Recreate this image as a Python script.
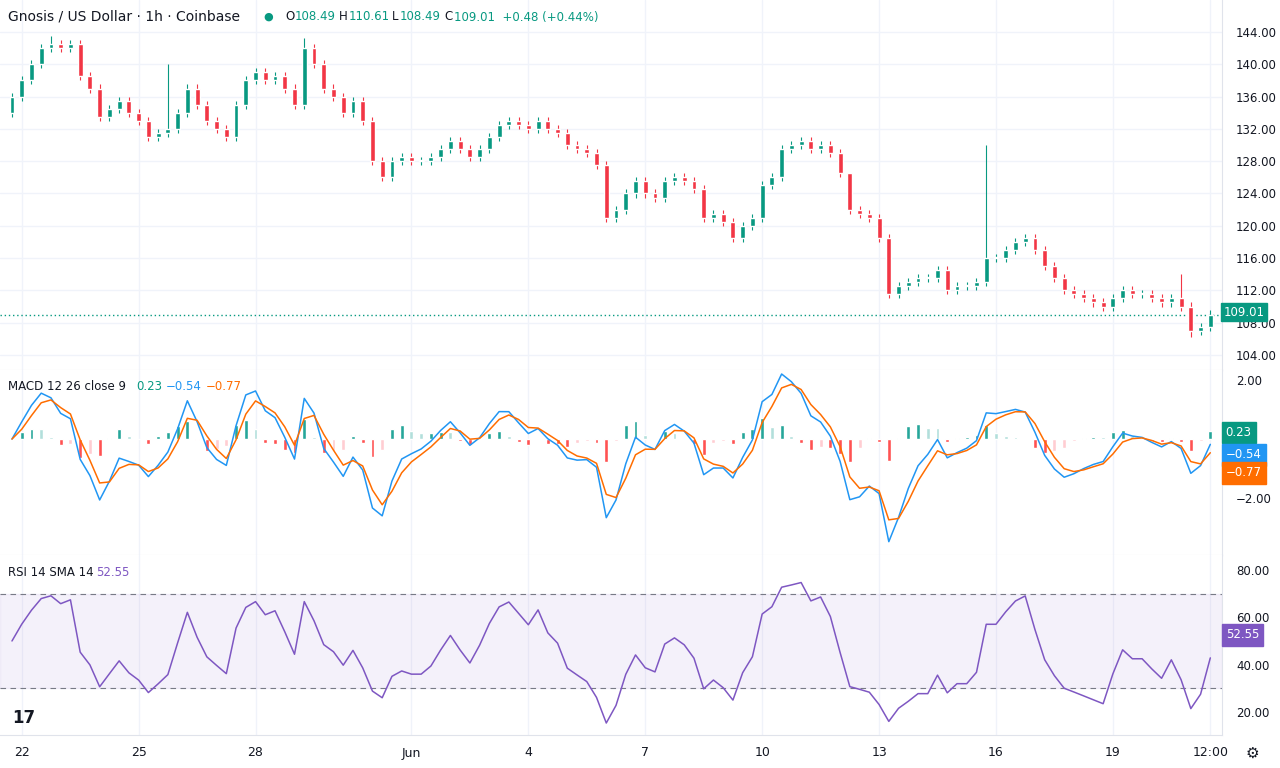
import numpy as np, pandas as pd, matplotlib
matplotlib.use("Agg")
import matplotlib.pyplot as plt, seaborn as sns

closes = [136,138,140,142,142.5,142,142.5,138.5,137,133.5,134.5,135.5,134,133,131,131.5,132,134,137,135,
133,132,131,135,138,139,138,138.5,137,135,142,140,137,136,134,135.5,133,128,126,128,
128.5,128,128,128.5,129.5,130.5,129.5,128.5,129.5,131,132.5,133,132.5,132,133,132,131.5,130,129.5,129,
127.5,121,122,124,125.5,124,123.5,125.5,126,125.5,124.5,121,121.5,120.5,118.5,120,121,125,126,129.5,
130,130.5,129.5,130,129,126.5,122,121.5,121,118.5,111.5,112.5,113,113.5,113.5,114.5,112,112.5,112.5,113,
116,116,117,118,118.5,117,115,113.5,112,111.5,111,110.5,110,111,112,111.5,111.5,111,110.5,111,
110,107,107.5,109.01]
first_open = 134.0
wick_spikes = {16: 140.0, 30: 143.2, 4: 143.5, 100: 130.0, 120: 114.0, 86: 126.0}
low_spikes = {121: 106.2, 74: 118.0}
tick_pos = [1,13,25,41,53,65,77,89,101,113,123]
tick_lab = ["22","25","28","Jun","4","7","10","13","16","19","12:00"]

c = np.array(closes, float); n = len(c)
o = np.r_[first_open, c[:-1]]
h = np.maximum(o, c) + 0.5; l = np.minimum(o, c) - 0.5
for k, v in wick_spikes.items(): h[k] = v
for k, v in low_spikes.items(): l[k] = v
idx = np.arange(n)
s = pd.Series(c)
macd = s.ewm(span=2.0, adjust=False).mean() - s.ewm(span=4.33, adjust=False).mean()
sig = macd.ewm(span=2.5, adjust=False).mean()
hist = macd - sig
d = s.diff().fillna(0)
up = pd.concat([pd.Series([1.0]), d.clip(lower=0)[1:]]).reset_index(drop=True).ewm(alpha=1/6, adjust=False).mean()
dn = pd.concat([pd.Series([1.0]), (-d.clip(upper=0))[1:]]).reset_index(drop=True).ewm(alpha=1/6, adjust=False).mean()
rsi = 100 - 100/(1 + up/dn.replace(0, 1e-9)); rsi = (rsi - 50) * 0.85 + 50

sns.set_style("white")
UP, DN = "#089981", "#f23645"
fig = plt.figure(figsize=(12.8, 7.68), dpi=100)
W = 1222/1280
def mk(top, bot):
    return fig.add_axes([0, 1-bot/768, W, (bot-top)/768])
ax1 = mk(0, 370); ax2 = mk(370, 555); ax3 = mk(555, 735)
xl = (-1.23, 124.2)
for ax in (ax1, ax2, ax3):
    ax.set_xlim(*xl)
    for t in tick_pos: ax.axvline(t, color="#f0f3fa", lw=1, zorder=0)
    for sp in ["top","left"]: ax.spines[sp].set_visible(False)
    ax.spines["right"].set_color("#e0e3eb"); ax.spines["bottom"].set_color("#e0e3eb")
    ax.yaxis.tick_right(); ax.tick_params(axis="y", length=0, labelsize=8.5, colors="#131722", pad=10)
    ax.set_xticks([])

# price
ax1.set_ylim(102.14, 147.96)
pt = np.arange(104, 145, 4)
for v in pt: ax1.axhline(v, color="#f0f3fa", lw=1, zorder=0)
ax1.set_yticks(pt); ax1.set_yticklabels([f"{v:.2f}" for v in pt])
col = np.where(c >= o, UP, DN)
ax1.vlines(idx, l, h, colors=col, lw=0.8, zorder=2)
ax1.bar(idx, np.maximum(np.abs(c-o), 0.15), bottom=np.minimum(o, c), width=0.5, color=col, zorder=3)
ax1.axhline(c[-1], color="#089981", lw=1, ls=(0,(1,2)))
ax1.text(1.001, (c[-1]+0.3-102.14)/(147.96-102.14), "109.01", transform=ax1.transAxes, va="center", ha="left",
         fontsize=8.5, color="white", bbox=dict(boxstyle="square,pad=0.2", fc=UP, ec=UP), zorder=10)
Y = 1-17/768
fig.text(8/1280, Y, "Gnosis / US Dollar · 1h · Coinbase", fontsize=10, va="center", color="#131722")
fig.text(263/1280, Y, "●", fontsize=8, va="center", color=UP)
for xp, t, cl in [(285,"O","#131722"),(295,"108.49",UP),(339,"H","#131722"),(349,"110.61",UP),
                  (392,"L","#131722"),(400,"108.49",UP),(444,"C","#131722"),(454,"109.01  +0.48 (+0.44%)",UP)]:
    fig.text(xp/1280, Y, t, fontsize=8.5, va="center", color=cl)

# MACD
ax2.set_ylim(-3.93, 2.34)
ax2.set_yticks([2, -2]); ax2.set_yticklabels(["2.00", "−2.00"])
hv = hist.values; prev = np.r_[0, hv[:-1]]
hc = np.where(hv >= 0, np.where(hv >= prev, "#26a69a", "#b2dfdb"), np.where(hv <= prev, "#ff5252", "#ffcdd2"))
ax2.bar(idx, hv, width=0.4, color=hc)
sns.lineplot(x=idx, y=macd.values, ax=ax2, color="#2196f3", lw=1.1)
sns.lineplot(x=idx, y=sig.values, ax=ax2, color="#ff6d00", lw=1.1)
for yy, txt, fc in [(0.23, "0.23", "#089981"), (-0.54, "−0.54", "#2196f3"), (-1.15, "−0.77", "#ff6d00")]:
    ax2.text(1.003, (yy+3.93)/6.27, txt, transform=ax2.transAxes, va="center", ha="left", fontsize=8.5,
             color="white", bbox=dict(boxstyle="square,pad=0.35", fc=fc, ec=fc))
Y2 = 1-386/768
fig.text(8/1280, Y2, "MACD 12 26 close 9", fontsize=8.5, va="center", color="#131722")
fig.text(136/1280, Y2, "0.23", fontsize=8.5, va="center", color=UP)
fig.text(166/1280, Y2, "−0.54", fontsize=8.5, va="center", color="#2196f3")
fig.text(206/1280, Y2, "−0.77", fontsize=8.5, va="center", color="#ff6d00")

# RSI
ax3.set_ylim(10.3, 86.3)
ax3.set_yticks([80, 60, 40, 20]); ax3.set_yticklabels(["80.00", "60.00", "40.00", "20.00"])
ax3.axhspan(30, 70, color="#7e57c2", alpha=0.08)
ax3.axhline(70, color="#787b86", lw=0.8, ls=(0,(5,4))); ax3.axhline(30, color="#787b86", lw=0.8, ls=(0,(5,4)))
sns.lineplot(x=idx, y=rsi.values, ax=ax3, color="#7e57c2", lw=1.1)
ax3.text(1.003, (52.55-10.3)/76, "52.55", transform=ax3.transAxes, va="center", ha="left", fontsize=8.5,
         color="white", bbox=dict(boxstyle="square,pad=0.35", fc="#7e57c2", ec="#7e57c2"))
Y3 = 1-572/768
fig.text(8/1280, Y3, "RSI 14 SMA 14", fontsize=8.5, va="center", color="#131722")
fig.text(96/1280, Y3, "52.55", fontsize=8.5, va="center", color="#7e57c2")
fig.text(12/1280, 1-718/768, "17", fontsize=12, fontweight="bold", va="center", color="#131722")

for t, lab in zip(tick_pos, tick_lab):
    fig.text((t - xl[0])/(xl[1]-xl[0])*W, 1-753/768, lab, ha="center", va="center", fontsize=9, color="#131722")
fig.text(1252/1280, 1-753/768, "⚙", ha="center", va="center", fontsize=11, color="#131722")
fig.savefig("out.png", dpi=100)
